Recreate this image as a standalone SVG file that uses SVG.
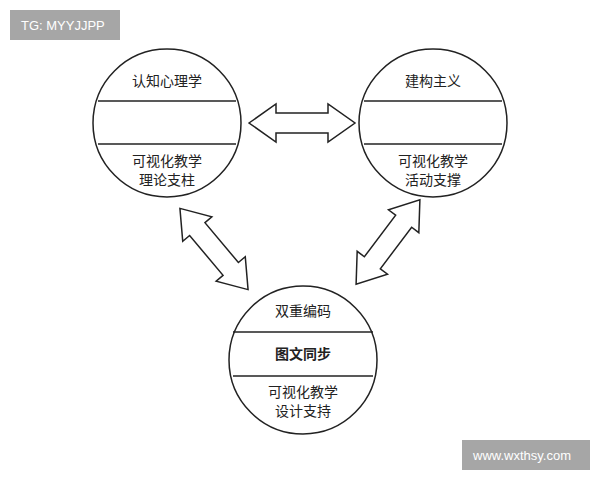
<svg xmlns="http://www.w3.org/2000/svg" width="600" height="480" viewBox="0 0 600 480">
<style>
.c{fill:#fff;stroke:#222;stroke-width:1.5}
.l{stroke:#222;stroke-width:1.5}
.t{font-family:"Noto Sans CJK SC",sans-serif;font-size:14px;fill:#222;text-anchor:middle}
.a{fill:#fff;stroke:#222;stroke-width:1.5;stroke-linejoin:miter}
.w{font-family:"Liberation Sans",sans-serif;font-size:13px;fill:#fff}
</style>
<defs>
<path id="da" d="M-53,0 L-26,-19 L-26,-10 L26,-10 L26,-19 L53,0 L26,19 L26,10 L-26,10 L-26,19 Z"/>
</defs>
<rect width="600" height="480" fill="#fff"/>
<rect x="10" y="10" width="110" height="30" fill="#a6a6a6"/>
<text class="w" x="21" y="30">TG: MYYJJPP</text>
<rect x="462" y="440" width="128" height="30" fill="#a6a6a6"/>
<text class="w" x="473" y="460">www.wxthsy.com</text>
<g id="connectors">
<use href="#da" class="a" transform="translate(302,123)"/>
<use href="#da" class="a" transform="translate(214,249) rotate(50)"/>
<use href="#da" class="a" transform="translate(388,242) rotate(127)"/>
</g>
<g id="n1">
<circle class="c" cx="167" cy="123" r="74"/>
<line class="l" x1="98" y1="101" x2="236" y2="101"/>
<line class="l" x1="98" y1="144" x2="236" y2="144"/>
<text class="t" x="167" y="86">认知心理学</text>
<text class="t" x="167" y="166">可视化教学</text>
<text class="t" x="167" y="185">理论支柱</text>
</g>
<g id="n2">
<circle class="c" cx="433" cy="123" r="74"/>
<line class="l" x1="364" y1="101" x2="502" y2="101"/>
<line class="l" x1="364" y1="144" x2="502" y2="144"/>
<text class="t" x="433" y="86">建构主义</text>
<text class="t" x="433" y="166">可视化教学</text>
<text class="t" x="433" y="185">活动支撑</text>
</g>
<g id="n3">
<circle class="c" cx="303" cy="360" r="74"/>
<line class="l" x1="233" y1="332" x2="373" y2="332"/>
<line class="l" x1="233" y1="376" x2="373" y2="376"/>
<text class="t" x="303" y="316">双重编码</text>
<text class="t" x="303" y="359" font-weight="bold">图文同步</text>
<text class="t" x="303" y="397">可视化教学</text>
<text class="t" x="303" y="416">设计支持</text>
</g>
</svg>
